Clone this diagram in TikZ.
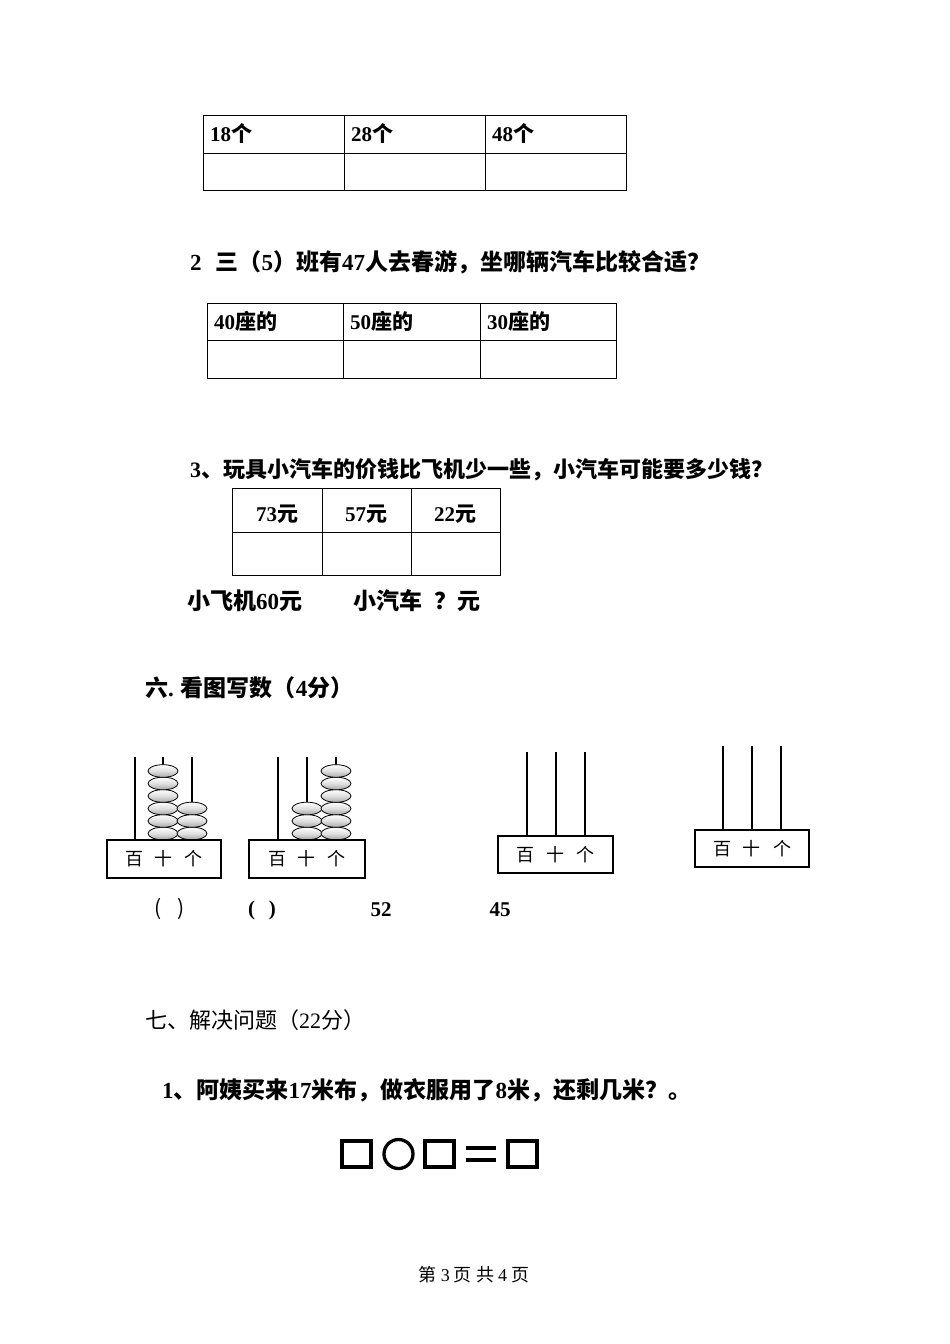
\documentclass[tikz,border=0pt]{standalone}
\usepackage{fontspec}
\setmainfont{Liberation Serif}
\newfontfamily\cjk{Noto Sans CJK SC}
\newcommand{\tm}[1]{{\fontspec{Liberation Serif}\bfseries #1}}
\begin{document}
\begin{tikzpicture}[x=1pt,y=-1pt,
  txt/.style={anchor=west,inner sep=0pt,font=\cjk\bfseries\fontsize{23}{25}\selectfont},
  cell/.style={anchor=west,inner sep=0pt,font=\cjk\bfseries\fontsize{21}{23}\selectfont},
  ccell/.style={inner sep=0pt,font=\cjk\bfseries\fontsize{21}{23}\selectfont},
  grid/.style={line width=1pt},
  rod/.style={line width=1.6pt},
  bead/.style={draw=black,line width=0.8pt,top color=white,bottom color=gray!70,middle color=gray!25},
  lab/.style={draw,line width=1.2pt,inner sep=0pt,font=\cjk\fontsize{18}{20}\selectfont}]
\useasboundingbox (0,0) rectangle (950,1344);
\fill[white] (0,0) rectangle (950,1344);
% table 1
\draw[grid] (203,115) rectangle (626,190) (203,153)--(626,153) (344,115)--(344,190) (485,115)--(485,190);
\node[cell] (t11) at (210,133) {\tm{18}个};
\node[cell] (t12) at (351,133) {\tm{28}个};
\node[cell] (t13) at (492,133) {\tm{48}个};
% q2
\node[txt] (q2) at (190,262) {\tm{2}\hspace{14pt}三（\tm{5}）班有\tm{47}人去春游，坐哪辆汽车比较合适？};
\draw[grid] (207,303) rectangle (616,378) (207,340)--(616,340) (343,303)--(343,378) (480,303)--(480,378);
\node[cell] (t21) at (214,321) {\tm{40}座的};
\node[cell] (t22) at (350,321) {\tm{50}座的};
\node[cell] (t23) at (487,321) {\tm{30}座的};
% q3
\node[txt,font=\cjk\bfseries\fontsize{22}{24}\selectfont] (q3) at (190,470) {\tm{3}、玩具小汽车的价钱比飞机少一些，小汽车可能要多少钱？};
\draw[grid] (232,488) rectangle (500,575) (232,532)--(500,532) (322,488)--(322,575) (411,488)--(411,575);
\node[ccell] (t31) at (277,514) {\tm{73}元};
\node[ccell] (t32) at (366,514) {\tm{57}元};
\node[ccell] (t33) at (455,514) {\tm{22}元};
\node[txt] (pl) at (187,601) {小飞机\tm{60}元};
\node[txt] (car) at (353,601) {小汽车\hspace{12pt}？元};
\node[txt] (s6) at (145,688) {六\tm{.} 看图写数（\tm{4}分）};
% abacus 1
\draw[rod] (135,757)--(135,840) (163,757)--(163,840) (192,757)--(192,840);
\foreach \i in {0,...,5} \shade[bead] (163,{833.5-12.5*\i}) ellipse (15 and 6.3);
\foreach \i in {0,...,2} \shade[bead] (192,{833.5-12.5*\i}) ellipse (15 and 6.3);
\node[lab,minimum width=114pt,minimum height=38pt] (b1) at (164,859) {百\hspace{12pt}十\hspace{12pt}个};
% abacus 2
\draw[rod] (278,757)--(278,840) (307,757)--(307,840) (336,757)--(336,840);
\foreach \i in {0,...,2} \shade[bead] (307,{833.5-12.5*\i}) ellipse (15 and 6.3);
\foreach \i in {0,...,5} \shade[bead] (336,{833.5-12.5*\i}) ellipse (15 and 6.3);
\node[lab,minimum width=116pt,minimum height=38pt] (b2) at (307,859) {百\hspace{12pt}十\hspace{12pt}个};
% abacus 3
\draw[rod] (527,752)--(527,836) (556,752)--(556,836) (585,752)--(585,836);
\node[lab,minimum width=115pt,minimum height=37pt] (b3) at (555.5,854.5) {百\hspace{12pt}十\hspace{12pt}个};
% abacus 4
\draw[rod] (723,746)--(723,830) (752,746)--(752,830) (781,746)--(781,830);
\node[lab,minimum width=114pt,minimum height=37pt] (b4) at (752,848.5) {百\hspace{12pt}十\hspace{12pt}个};
\node[ccell,font=\cjk\fontsize{21}{23}\selectfont] (a1) at (170,909) {(\hspace{16pt})};
\node[ccell] (a2) at (262,910) {\tm{(\hspace{14pt})}};
\node[ccell] (a3) at (381,910) {\tm{52}};
\node[ccell] (a4) at (500,910) {\tm{45}};
\node[txt,font=\cjk\fontsize{22}{24}\selectfont] (s7) at (145,1020) {七、解决问题（{\fontspec{Liberation Serif}22}分）};
\node[txt] (q71) at (162,1090) {\tm{1}、阿姨买来\tm{17}米布，做衣服用了\tm{8}米，还剩几米？。};
% symbols
\draw[line width=3.3pt] (342,1141) rectangle (371,1167);
\draw[line width=3.3pt] (398.5,1154) circle (14.5);
\draw[line width=3.3pt] (425,1141) rectangle (454,1167);
\draw[line width=3.3pt] (466,1148)--(496,1148) (466,1160)--(496,1160);
\draw[line width=3.3pt] (508,1141) rectangle (537,1167);
\node[ccell,font=\fontsize{18}{20}\selectfont\cjk] (ft) at (474,1275) {第 {\fontspec{Liberation Serif}3} 页 共 {\fontspec{Liberation Serif}4} 页};
\end{tikzpicture}
\end{document}
